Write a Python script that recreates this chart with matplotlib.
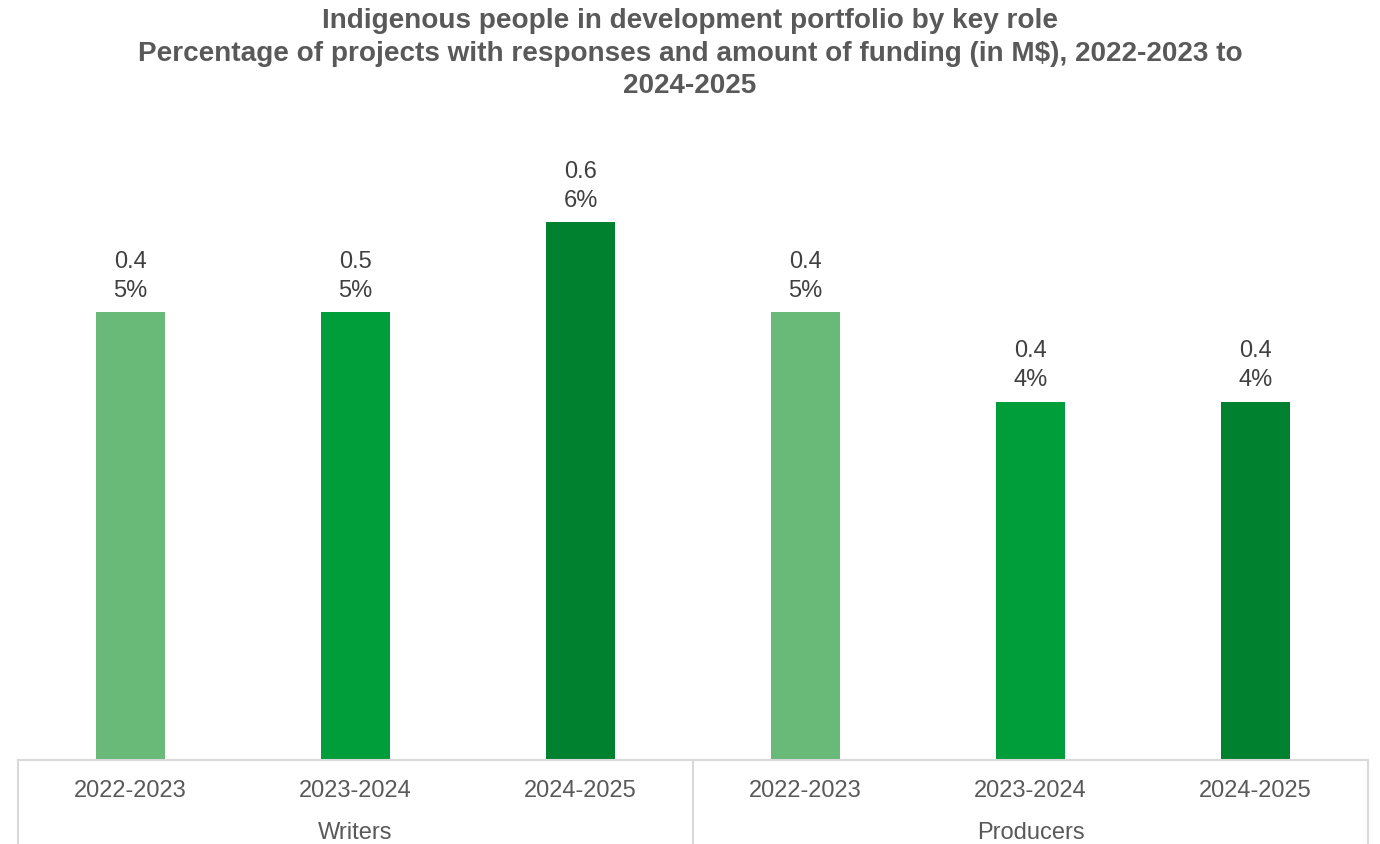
import matplotlib
matplotlib.use("Agg")
import matplotlib.pyplot as plt
from matplotlib.transforms import blended_transform_factory

plt.rcParams['font.family'] = ['Liberation Sans', 'DejaVu Sans']

years = ["2022-2023", "2023-2024", "2024-2025"]
roles = ["Writers", "Producers"]
pct = [5, 5, 6, 5, 4, 4]
funding = [0.4, 0.5, 0.6, 0.4, 0.4, 0.4]
colors = ["#69B978", "#009D3B", "#00812F"]

W, H = 1380, 844
fig = plt.figure(figsize=(W / 100, H / 100), dpi=100)
ax = fig.add_axes([18 / W, (H - 760) / H, 1350 / W, 672 / H])

n = len(pct)
xs = list(range(n))
bar_colors = [colors[i % 3] for i in range(n)]
ax.bar(xs, pct, width=0.31, color=bar_colors, zorder=2)
ax.set_xlim(-0.5, n - 0.5)
ax.set_ylim(0, 7.5)

for x, p, f in zip(xs, pct, funding):
    ax.annotate(f"{f:.1f}\n{p}%", (x, p), xytext=(0, 7.5), textcoords="offset points",
                ha="center", va="bottom", fontsize=17, color="#404040", linespacing=1.4)

for s in ax.spines.values():
    s.set_visible(False)
ax.set_yticks([])
ax.set_xticks([])

trans = blended_transform_factory(ax.transData, ax.transAxes)
for x in xs:
    ax.text(x, -31 / 672, years[x % 3], transform=trans, ha="center", va="center",
            fontsize=17, color="#595959", clip_on=False)
for g, role in enumerate(roles):
    ax.text(g * 3 + 1, -73 / 672, role, transform=trans, ha="center", va="center",
            fontsize=17, color="#595959", clip_on=False)

lc = "#D9D9D9"
ax.plot([-0.5, n - 0.5], [0, 0], transform=trans, color=lc, lw=1.5, clip_on=False)
for xv in [-0.5, 2.5, n - 0.5]:
    ax.plot([xv, xv], [0, -90 / 672], transform=trans, color=lc, lw=1.5, clip_on=False)

fig.text(0.5, 1 - 8 / H,
         "Indigenous people in development portfolio by key role\n"
         "Percentage of projects with responses and amount of funding (in M$), 2022-2023 to\n"
         "2024-2025",
         ha="center", va="top", fontsize=20.1, fontweight="bold", color="#595959", linespacing=1.33)

fig.savefig("out.png", dpi=100)
